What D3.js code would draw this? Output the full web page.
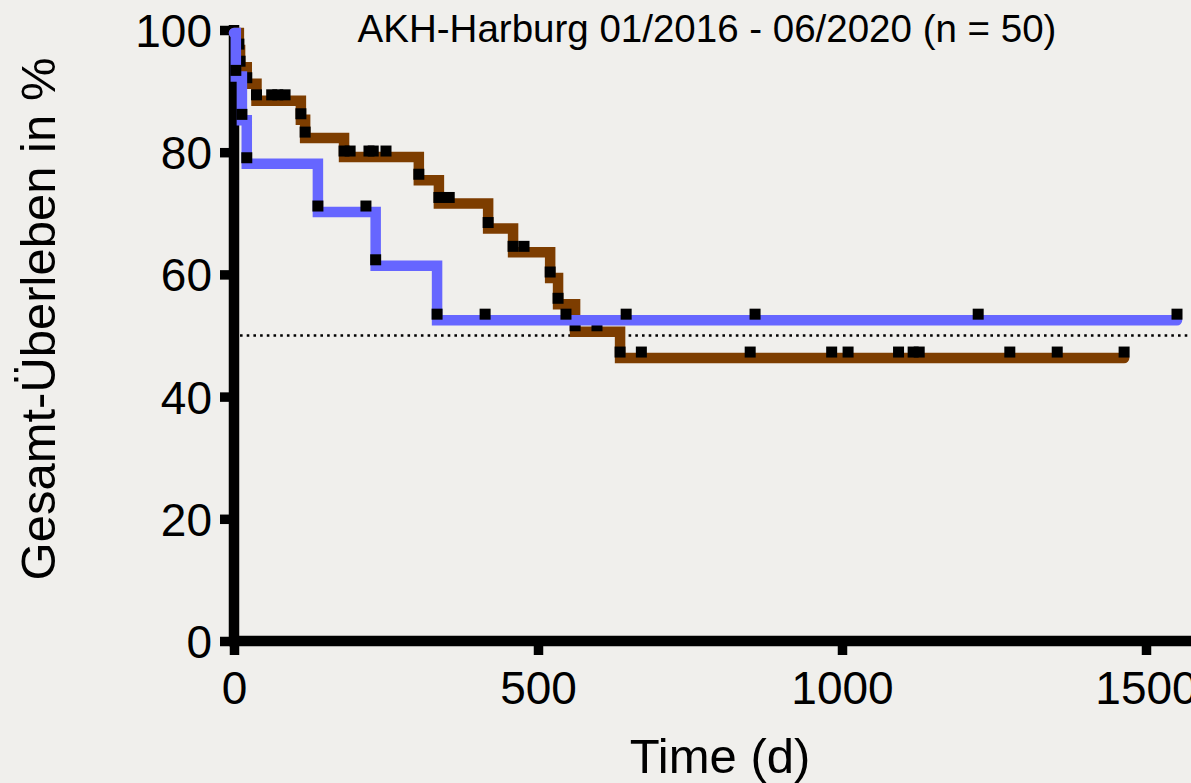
<!DOCTYPE html>
<html>
<head>
<meta charset="utf-8">
<script src="https://cdn.jsdelivr.net/npm/d3@7"></script>
<style>
  body { margin: 0; background: #f0efec; }
  svg { display: block; font-family: "Liberation Sans", Arial, sans-serif; }
</style>
</head>
<body>
<div id="chart"></div>
<script>
// Kaplan-Meier data (days, % survival after each death)
const blueDeathDays = [3, 13, 21, 138, 233, 334];
const blueDeathSurv = [92.9, 85.7, 78.6, 70.7, 61.9, 53.0];
const blueCensorDays = [217, 413, 546, 645, 857, 1224, 1551];

const brownDeathDays = [8, 10, 21, 37, 110, 117, 181, 304, 337, 418, 459, 520, 533, 561, 635];
const brownDeathSurv = [97.2, 94.4, 91.7, 88.9, 85.8, 82.8, 79.7, 75.9, 72.1, 68.0, 64.1, 59.9, 55.6, 51.1, 46.8];
const brownCensorDays = [62, 72, 84, 191, 222, 229, 250, 354, 477, 597, 670, 849, 983, 1010, 1093, 1117, 1127, 1276, 1354, 1464];

const xTicks = [0, 500, 1000, 1500];
const yTicks = [0, 20, 40, 60, 80, 100];
const medianLevel = 50;

const title = "AKH-Harburg 01/2016 - 06/2020 (n = 50)";
const xTitle = "Time (d)";
const yTitle = "Gesamt-Überleben in %";

const width = 1191, height = 783;

const svg = d3.select("#chart").append("svg")
    .attr("width", width)
    .attr("height", height);

const x = d3.scaleLinear().domain([0, 1500]).range([234, 1146]);
const y = d3.scaleLinear().domain([0, 100]).range([641, 30]);

// axes
const yAxis = svg.append("g")
    .attr("transform", `translate(${x(0)},0)`)
    .call(d3.axisLeft(y).tickValues(yTicks).tickFormat(d3.format("d"))
        .tickSize(14).tickPadding(8).tickSizeOuter(0));
const xAxis = svg.append("g")
    .attr("transform", `translate(0,${y(0)})`)
    .call(d3.axisBottom(x).tickValues(xTicks).tickFormat(d3.format("d"))
        .tickSize(14).tickPadding(16).tickSizeOuter(0));

[xAxis, yAxis].forEach(g => {
    g.select(".domain").remove();
    g.selectAll(".tick line").attr("stroke", "#000").attr("stroke-width", 9.5);
    g.selectAll(".tick text").attr("fill", "#000").style("font-size", "46px");
});
yAxis.selectAll(".tick text").attr("dy", "0.36em");

svg.append("line")
    .attr("x1", x(0)).attr("x2", x(0))
    .attr("y1", y(100) - 5).attr("y2", y(0) + 5)
    .attr("stroke", "#000").attr("stroke-width", 10.5);
svg.append("line")
    .attr("x1", x(0) - 5).attr("x2", width + 10)
    .attr("y1", y(0)).attr("y2", y(0))
    .attr("stroke", "#000").attr("stroke-width", 10.5);

// 50 % dotted line
svg.append("line")
    .attr("x1", x(0) + 6).attr("x2", width)
    .attr("y1", y(medianLevel)).attr("y2", y(medianLevel))
    .attr("stroke", "#000").attr("stroke-width", 2.6)
    .attr("stroke-dasharray", "2.6 4.1");

// helpers
function survAt(days, surv, t) {
    const i = d3.bisectRight(days, t);
    return i === 0 ? 100 : surv[i - 1];
}

const line = d3.line()
    .x(d => x(d[0]))
    .y(d => y(d[1]))
    .curve(d3.curveStepAfter);

function drawGroup(deathDays, deathSurv, censorDays, color) {
    const endDay = Math.max(d3.max(deathDays), d3.max(censorDays));
    const pts = [[0, 100]].concat(deathDays.map((t, i) => [t, deathSurv[i]]));
    pts.push([endDay, deathSurv[deathSurv.length - 1]]);

    svg.append("path")
        .datum(pts)
        .attr("d", line)
        .attr("transform", "translate(0,3)")
        .attr("fill", "none")
        .attr("stroke", color)
        .attr("stroke-width", 10.5)
        .attr("stroke-linejoin", "miter")
        .attr("stroke-linecap", "round");

    const marks = deathDays.map((t, i) => [t, deathSurv[i]])
        .concat(censorDays.map(t => [t, survAt(deathDays, deathSurv, t)]));

    svg.append("g").selectAll("rect").data(marks).enter().append("rect")
        .attr("x", d => x(d[0]) - 5.5)
        .attr("y", d => y(d[1]) - 3 - 5.5)
        .attr("width", 11)
        .attr("height", 11)
        .attr("fill", "#000");
}

drawGroup(brownDeathDays, brownDeathSurv, brownCensorDays, "#7d3d00");
drawGroup(blueDeathDays, blueDeathSurv, blueCensorDays, "#6666ff");

// texts
svg.append("text")
    .attr("x", 707).attr("y", 42)
    .attr("text-anchor", "middle")
    .style("font-size", "38.5px")
    .text(title);

svg.append("text")
    .attr("x", 720).attr("y", 773)
    .attr("text-anchor", "middle")
    .style("font-size", "49px")
    .text(xTitle);

svg.append("text")
    .attr("transform", "translate(55,319) rotate(-90)")
    .attr("text-anchor", "middle")
    .style("font-size", "49px")
    .text(yTitle);
</script>
</body>
</html>
